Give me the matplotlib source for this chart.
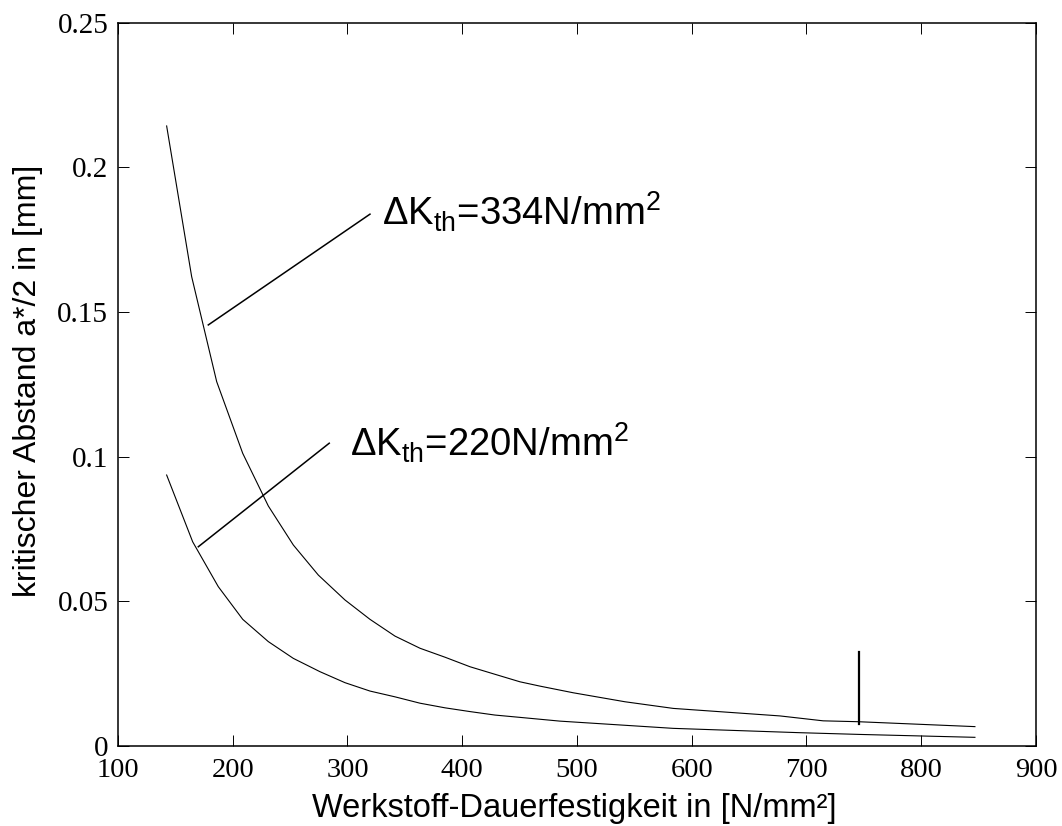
import matplotlib
matplotlib.use("Agg")
import matplotlib.pyplot as plt

plt.rcParams['mathtext.fontset'] = 'custom'
plt.rcParams['mathtext.rm'] = 'Liberation Sans'
plt.rcParams['mathtext.it'] = 'Liberation Sans:italic'
plt.rcParams['mathtext.bf'] = 'Liberation Sans:bold'

# Data
x_334 = [142.4, 164.2, 186.0, 208.7, 231.0, 252.8, 274.6, 297.8, 319.6, 341.4,
         363.2, 385.0, 406.8, 428.5, 450.3, 467.8, 496.8, 541.8, 583.9, 676.9,
         714.6, 745.1, 846.8]
y_334 = [0.2143, 0.1622, 0.1259, 0.1011, 0.0829, 0.0694, 0.0590, 0.0504, 0.0437, 0.0379,
         0.0337, 0.0306, 0.0273, 0.0247, 0.0221, 0.0206, 0.0183, 0.0152, 0.0129, 0.0103,
         0.0086, 0.0083, 0.0066]

x_220 = [142.4, 165.1, 187.4, 208.7, 231.0, 252.8, 276.0, 297.8, 319.6, 341.4,
         363.2, 385.0, 406.8, 428.5, 450.3, 485.2, 583.9, 694.3, 746.6, 846.8]
y_220 = [0.0936, 0.0705, 0.0550, 0.0437, 0.0360, 0.0302, 0.0256, 0.0218, 0.0189, 0.0169,
         0.0147, 0.0131, 0.0118, 0.0106, 0.0098, 0.0085, 0.0060, 0.0045, 0.0039, 0.0029]

marker_x = [745.8, 745.8]
marker_y = [0.0076, 0.0325]

leader_334_x = [178.7, 319.6]
leader_334_y = [0.1455, 0.1838]
leader_220_x = [170.0, 284.1]
leader_220_y = [0.0688, 0.1046]

label_334 = r'Δ$\mathrm{K_{th}}$=334N/mm$^{2}$'
label_220 = r'Δ$\mathrm{K_{th}}$=220N/mm$^{2}$'
label_334_pos = (329.8, 0.1800)
label_220_pos = (302.2, 0.0998)

x_ticks = [100, 200, 300, 400, 500, 600, 700, 800, 900]
y_ticks = [0, 0.05, 0.1, 0.15, 0.2, 0.25]
y_ticklabels = ['0', '0.05', '0.1', '0.15', '0.2', '0.25']

xlabel = 'Werkstoff-Dauerfestigkeit in [N/mm²]'
ylabel = 'kritischer Abstand a*/2 in [mm]'

fig = plt.figure(figsize=(10.62, 8.26), dpi=100)
ax = fig.add_axes([0.1111, 0.0972, 0.8644, 0.8753])

lw = 0.8
ax.plot(x_334, y_334, color='black', lw=lw)
ax.plot(x_220, y_220, color='black', lw=lw)
ax.plot(leader_334_x, leader_334_y, color='black', lw=1.1)
ax.plot(leader_220_x, leader_220_y, color='black', lw=1.1)
ax.plot(marker_x, marker_y, color='black', lw=1.6)

ax.text(label_334_pos[0], label_334_pos[1], label_334, fontsize=27.5,
        family='Liberation Sans', ha='left', va='baseline')
ax.text(label_220_pos[0], label_220_pos[1], label_220, fontsize=27.5,
        family='Liberation Sans', ha='left', va='baseline')

ax.set_xlim(100, 900)
ax.set_ylim(0, 0.25)
ax.set_xticks(x_ticks)
ax.set_xticklabels([str(v) for v in x_ticks])
ax.set_yticks(y_ticks)
ax.set_yticklabels(y_ticklabels)

ax.tick_params(direction='in', length=8, width=0.7, top=True, right=True)
ax.tick_params(axis='x', labelsize=20.5, pad=9)
ax.tick_params(axis='y', labelsize=21, pad=7)
for lab in ax.get_xticklabels() + ax.get_yticklabels():
    lab.set_family('Liberation Serif')
for s in ax.spines.values():
    s.set_linewidth(1.1)

ax.set_xlabel(xlabel, fontsize=23.5, family='Liberation Sans')
ax.set_ylabel(ylabel, fontsize=23, family='Liberation Sans')
ax.xaxis.label.set_va('baseline')
ax.xaxis.set_label_coords(0.497, -0.0986)
ax.yaxis.label.set_va('center')
ax.yaxis.set_label_coords(-0.098, 0.504)

fig.savefig('out.png', dpi=100)
